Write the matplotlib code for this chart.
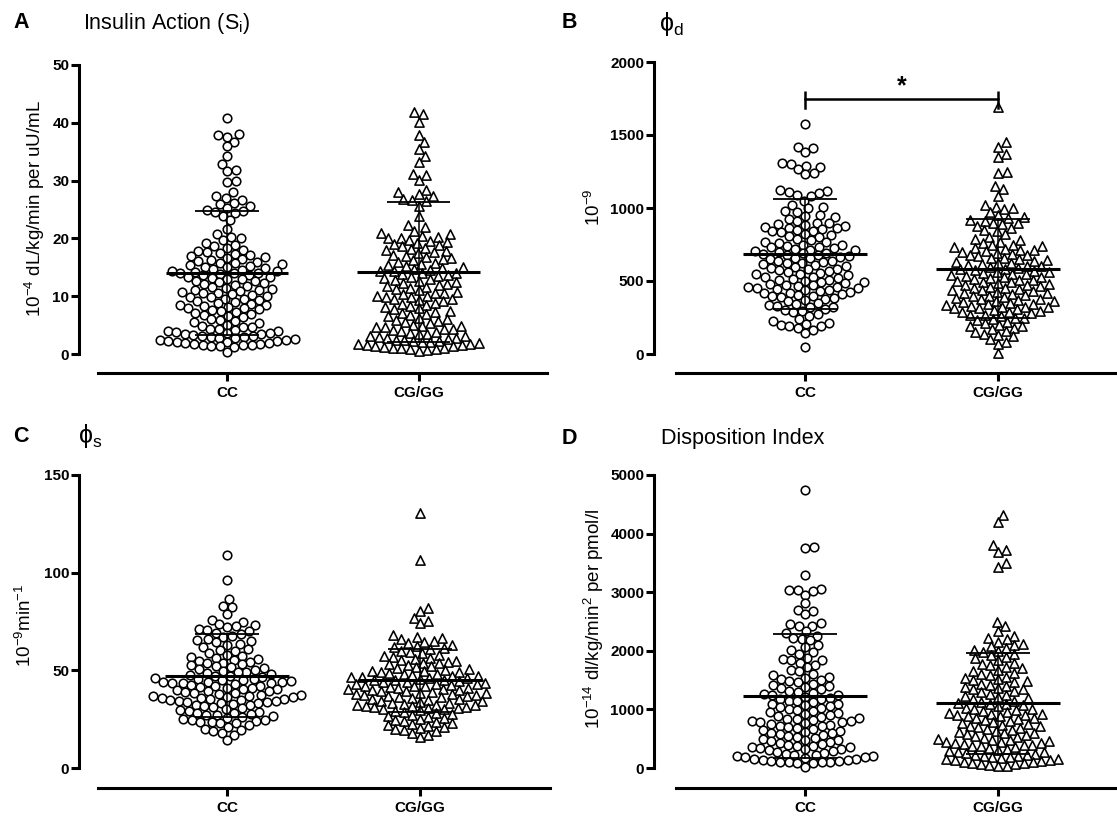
import matplotlib
matplotlib.use('Agg')
import matplotlib.pyplot as plt
import numpy as np

plt.rcParams['font.family'] = ['Liberation Sans', 'DejaVu Sans']
plt.rcParams['mathtext.fontset'] = 'custom'
plt.rcParams['mathtext.rm'] = 'Liberation Sans'
plt.rcParams['mathtext.it'] = 'Liberation Sans:italic'
plt.rcParams['mathtext.bf'] = 'Liberation Sans:bold'

W, H = 1117, 817
groups = ['CC', 'CG/GG']

# ---- data ----
si_cc = [40.8, 38.0, 37.9, 37.6, 36.7, 35.9, 34.3, 32.9, 31.9, 31.7, 30.0, 29.8, 28.0, 27.3,
         27.0, 26.6, 26.2, 25.9, 25.6, 25.2, 24.9, 24.7, 24.6, 24.4, 23.9, 23.1, 21.7, 20.8,
         20.3, 20.0, 19.7, 19.2, 18.9, 18.6, 18.4, 18.0, 17.8, 17.6, 17.4, 17.3, 17.1, 16.9,
         16.8, 16.6, 16.5, 16.3, 16.1, 16.0, 15.8, 15.7, 15.5, 15.4, 15.2, 15.1, 15.0, 14.8,
         14.7, 14.6, 14.4, 14.3, 14.2, 14.1, 14.0, 14.0, 13.9, 13.7, 13.6, 13.4, 13.3, 13.2,
         13.0, 12.9, 12.7, 12.6, 12.4, 12.3, 12.1, 12.0, 11.8, 11.6, 11.5, 11.3, 11.1, 11.0,
         10.9, 10.7, 10.6, 10.5, 10.4, 10.2, 10.1, 9.9, 9.8, 9.6, 9.5, 9.3, 9.1, 9.0, 8.8,
         8.7, 8.5, 8.4, 8.3, 8.2, 8.0, 7.9, 7.7, 7.6, 7.4, 7.3, 7.1, 7.0, 6.8, 6.6, 6.4, 6.1,
         5.9, 5.7, 5.5, 5.4, 5.1, 4.9, 4.7, 4.6, 4.4, 4.3, 4.2, 4.0, 3.9, 3.8, 3.7, 3.6, 3.5,
         3.4, 3.3, 3.2, 3.1, 3.0, 2.9, 2.8, 2.7, 2.6, 2.5, 2.4, 2.3, 2.2, 2.1, 2.0, 1.9, 1.9,
         1.8, 1.7, 1.6, 1.6, 1.5, 1.4, 1.3, 1.2, 0.4]
si_cg = [41.8, 41.5, 40.2, 37.9, 36.6, 35.4, 34.3, 33.3, 31.2, 30.9, 30.1, 28.4, 28.0, 27.7,
         27.3, 26.9, 26.6, 26.4, 25.6, 23.8, 22.3, 21.9, 21.3, 21.0, 20.8, 20.5, 20.3, 20.1,
         20.0, 19.8, 19.6, 19.4, 19.2, 19.0, 18.8, 18.6, 18.4, 18.2, 18.0, 17.8, 17.6, 17.4,
         17.2, 17.0, 16.8, 16.6, 16.4, 16.2, 16.0, 15.8, 15.6, 15.4, 15.2, 15.0, 14.8, 14.7,
         14.5, 14.4, 14.3, 14.1, 14.0, 13.8, 13.6, 13.5, 13.3, 13.1, 13.0, 12.8, 12.6, 12.4,
         12.3, 12.1, 11.9, 11.7, 11.6, 11.4, 11.2, 11.0, 10.8, 10.6, 10.5, 10.3, 10.1, 10.0,
         9.9, 9.8, 9.6, 9.5, 9.4, 9.1, 8.9, 8.7, 8.5, 8.3, 8.1, 7.9, 7.7, 7.5, 7.3, 7.1, 6.9,
         6.7, 6.5, 6.3, 6.1, 5.9, 5.7, 5.5, 5.3, 5.1, 4.9, 4.8, 4.7, 4.6, 4.4, 4.3, 4.1, 4.0,
         3.8, 3.7, 3.5, 3.4, 3.2, 3.1, 2.9, 2.8, 2.7, 2.6, 2.5, 2.4, 2.3, 2.2, 2.1, 2.0, 1.9,
         1.8, 1.7, 1.6, 1.5, 1.4, 1.3, 1.2, 1.1, 1.0, 1.0, 0.9, 0.8, 0.7, 0.6]

phid_cc = [1575, 1420, 1410, 1385, 1305, 1300, 1290, 1280, 1265, 1240, 1230, 1120, 1115, 1110,
           1100, 1090, 1085, 1050, 1020, 1010, 1000, 980, 970, 955, 945, 935, 925, 910, 900,
           895, 890, 885, 880, 870, 865, 860, 855, 850, 845, 840, 835, 825, 815, 805, 800, 790,
           780, 770, 765, 760, 750, 745, 740, 735, 730, 725, 720, 715, 710, 705, 700, 695, 690,
           685, 680, 675, 670, 665, 660, 655, 650, 640, 635, 630, 625, 620, 615, 610, 600, 595,
           590, 585, 580, 575, 570, 560, 555, 550, 545, 540, 530, 525, 520, 515, 510, 505, 500,
           495, 490, 485, 480, 475, 470, 465, 462, 460, 455, 450, 445, 440, 435, 430, 425, 420,
           415, 410, 405, 400, 395, 390, 385, 380, 370, 360, 350, 340, 335, 330, 325, 320, 310,
           300, 295, 285, 275, 260, 240, 225, 215, 205, 200, 195, 190, 180, 165, 145, 45]
phid_cg = [1690, 1450, 1420, 1370, 1350, 1250, 1240, 1150, 1130, 1080, 1020, 1010, 1000, 990,
           970, 950, 940, 930, 920, 910, 900, 895, 890, 880, 865, 850, 840, 820, 800, 790, 780,
           770, 760, 750, 745, 740, 730, 725, 720, 715, 710, 705, 700, 695, 685, 680, 675, 670,
           660, 655, 650, 645, 640, 630, 625, 620, 615, 610, 605, 600, 595, 590, 585, 580, 575,
           570, 565, 560, 555, 550, 545, 540, 535, 530, 525, 520, 515, 510, 505, 500, 495, 490,
           485, 480, 475, 470, 465, 460, 455, 450, 445, 440, 435, 430, 425, 420, 415, 410, 405,
           400, 395, 390, 385, 380, 375, 370, 365, 360, 355, 350, 345, 340, 335, 330, 325, 322,
           320, 318, 315, 310, 300, 295, 290, 285, 280, 270, 265, 260, 250, 245, 240, 230, 220,
           210, 200, 195, 190, 180, 170, 160, 150, 140, 130, 120, 100, 85, 70, 5]

phis_cc = [109, 96.5, 86.5, 83, 82.5, 79, 76, 74.5, 73.5, 73, 72.5, 72, 71, 70.5, 70, 69, 68.5,
           67.5, 67, 66, 65.5, 65, 64.5, 63.5, 63, 62, 61, 60.5, 60, 59, 58, 57.5, 57, 56.5, 56,
           55.5, 55, 54.5, 54, 53.5, 53, 52.5, 52, 51.5, 51, 50.5, 50, 49.5, 49.2, 49, 48.5, 48,
           47.5, 47.2, 47, 46.5, 46, 45.8, 45.5, 45, 44.8, 44.5, 44.2, 44, 43.8, 43.6, 43.5,
           43.5, 43, 42.5, 42.2, 42, 41.5, 41.2, 41, 40.5, 40.2, 40, 39.5, 39.2, 39, 38.5, 38.2,
           38, 37.5, 37.2, 37, 36.8, 36.5, 36.2, 36, 35.8, 35.5, 35.2, 35, 34.8, 34.5, 34.2, 34,
           33.8, 33.5, 33.2, 33, 32.5, 32, 31.5, 31, 30.5, 30, 29.5, 29, 28.5, 28.2, 28, 27.5,
           27.2, 27, 26.5, 26, 25.5, 25, 24.8, 24.5, 24, 23.8, 23.5, 23.2, 23, 22, 21, 20, 19.5,
           19, 18, 17, 14.5]
phis_cg = [130.5, 106.5, 82, 80.5, 77, 75.5, 74, 68, 67, 66.5, 66, 65, 64.5, 64, 63, 62.5, 62,
           61.5, 61, 60, 59.5, 59, 58, 57.5, 57, 56.5, 56, 55.5, 55, 54.5, 54, 53.5, 53, 52.5,
           52, 51.5, 51, 50.5, 50, 49.8, 49.5, 49.2, 49, 48.5, 48.2, 48, 47.5, 47.2, 47, 46.8,
           46.5, 46.2, 46, 45.5, 45.2, 45, 44.8, 44.5, 44.2, 44, 43.5, 43.2, 43, 42.8, 42.5,
           42.2, 42, 41.8, 41.5, 41.2, 41, 40.5, 40.2, 40, 39.8, 39.5, 39.2, 39, 38.5, 38.2, 38,
           37.8, 37.5, 37.2, 37, 36.8, 36.5, 36.2, 36, 35.5, 35.2, 35, 34.5, 34.2, 34, 33.5,
           33.2, 33, 32.5, 32.2, 32, 31.8, 31.5, 31.2, 31, 30.8, 30.5, 30.2, 30, 29.5, 29, 28.5,
           28, 27.5, 27, 26.5, 26, 25.5, 25, 24.5, 24, 23.5, 23, 22.5, 22, 21.5, 21, 20.5, 20,
           19.5, 19, 18, 17, 16]

di_cc = [4745, 3770, 3760, 3300, 3050, 3045, 3040, 3020, 2960, 2810, 2700, 2680, 2620, 2470,
         2450, 2430, 2420, 2330, 2300, 2260, 2220, 2200, 2180, 2100, 2060, 2020, 1980, 1950,
         1880, 1860, 1850, 1840, 1800, 1750, 1720, 1680, 1650, 1600, 1580, 1560, 1540, 1520,
         1500, 1480, 1460, 1440, 1420, 1400, 1380, 1360, 1340, 1320, 1300, 1280, 1260, 1250,
         1240, 1220, 1200, 1185, 1170, 1150, 1135, 1120, 1100, 1085, 1070, 1050, 1035, 1020,
         1000, 985, 970, 950, 935, 920, 900, 885, 870, 850, 840, 830, 820, 810, 800, 790, 780,
         770, 755, 740, 725, 710, 695, 680, 665, 650, 635, 620, 605, 590, 575, 560, 545, 530,
         515, 500, 485, 470, 455, 440, 425, 410, 395, 380, 370, 360, 350, 340, 330, 320, 300,
         285, 270, 255, 240, 230, 220, 210, 200, 190, 180, 170, 160, 150, 140, 130, 120, 115,
         110, 105, 100, 95, 90, 80, 20]
di_cg = [4320, 4200, 3800, 3720, 3680, 3500, 3430, 2490, 2420, 2330, 2260, 2220, 2200, 2150,
         2120, 2100, 2080, 2050, 2020, 2000, 1980, 1950, 1920, 1900, 1870, 1840, 1800, 1780,
         1750, 1720, 1700, 1680, 1650, 1620, 1600, 1580, 1560, 1540, 1520, 1500, 1480, 1460,
         1440, 1420, 1400, 1380, 1360, 1350, 1340, 1310, 1290, 1270, 1250, 1230, 1210, 1190,
         1170, 1150, 1130, 1110, 1100, 1090, 1070, 1050, 1030, 1010, 1000, 990, 970, 950, 940,
         930, 920, 910, 900, 890, 880, 860, 845, 830, 815, 800, 785, 770, 755, 740, 725, 710,
         695, 680, 665, 650, 635, 620, 605, 590, 575, 560, 545, 530, 515, 500, 485, 470, 460,
         450, 440, 430, 420, 410, 400, 390, 380, 370, 355, 340, 325, 310, 295, 280, 265, 250,
         240, 230, 220, 210, 200, 190, 180, 170, 160, 150, 140, 130, 120, 110, 100, 90, 80, 70,
         60, 50, 40, 30]

# mean, mean+SD, mean-SD as drawn
si_stats = [(14.0, 24.7, 3.3), (14.2, 26.3, 2.1)]
phid_stats = [(683, 1060, 305), (585, 925, 250)]
phis_stats = [(47.3, 68.6, 26.0), (45.1, 61.1, 28.8)]
di_stats = [(1229, 2287, 170), (1104, 1968, 240)]


def swarm_x(ax, values, x0, d):
    """Beeswarm offsets computed in pixel space, returned in data x."""
    vals = np.asarray(values, dtype=float)
    pts = ax.transData.transform(np.column_stack([np.full(len(vals), x0), vals]))
    xc, ys = pts[0, 0], pts[:, 1]
    xs = np.zeros(len(vals))
    placed = []
    for i in np.argsort(ys):
        y = ys[i]
        near = [(px, py) for px, py in placed if abs(py - y) < d]
        cands = [0.0]
        for px, py in near:
            dx = np.sqrt(d * d - (py - y) ** 2)
            cands += [px + dx, px - dx]
        cands.sort(key=abs)
        for c in cands:
            if all((c - px) ** 2 + (y - py) ** 2 >= d * d - 1e-6 for px, py in near):
                xs[i] = c
                break
        placed.append((xs[i], y))
    back = ax.transData.inverted().transform(np.column_stack([xc + xs, ys]))
    return back[:, 0]


fig = plt.figure(figsize=(W / 100, H / 100), dpi=100)

panels = [
    dict(letter='A', title=r'Insulin Action (S$_{\mathrm{i}}$)',
         ylabel=r'10$^{-4}$ dL/kg/min per uU/mL', ymax=50, step=10,
         data=(si_cc, si_cg), stats=si_stats,
         box=(79, 547, 65, 354), cats=(227, 418.5), xstart=98, off=19,
         letter_xy=(13, 23), title_xy=(83, 23), title_fs=15.5, ylab_xy=(35, 208)),
    dict(letter='B', title=r'$\mathrm{\phi_d}$', ylabel=r'10$^{-9}$', ymax=2000, step=500,
         data=(phid_cc, phid_cg), stats=phid_stats,
         box=(654, 1116, 62, 354), cats=(805, 998), xstart=676, off=19,
         letter_xy=(562, 22), title_xy=(659, 24), title_fs=18, ylab_xy=(594, 207)),
    dict(letter='C', title=r'$\mathrm{\phi_s}$', ylabel=r'10$^{-9}$min$^{-1}$', ymax=150, step=50,
         data=(phis_cc, phis_cg), stats=phis_stats,
         box=(79, 550, 475, 768), cats=(227, 420), xstart=98, off=20,
         letter_xy=(13, 436), title_xy=(78, 436), title_fs=18, ylab_xy=(25, 625)),
    dict(letter='D', title='Disposition Index',
         ylabel=r'10$^{-14}$ dl/kg/min$^{2}$ per pmol/l', ymax=5000, step=1000,
         data=(di_cc, di_cg), stats=di_stats,
         box=(654, 1116, 475, 768), cats=(805, 998), xstart=676, off=20,
         letter_xy=(562, 439), title_xy=(661, 439), title_fs=15.5, ylab_xy=(594, 619)),
]

for p in panels:
    left, right, top, bottom = p['box']
    ax = fig.add_axes([left / W, 1 - bottom / H, (right - left) / W, (bottom - top) / H])
    c0, c1 = p['cats']
    sp = c1 - c0
    ax.set_xlim((left - c0) / sp, (right - c0) / sp)
    ax.set_ylim(0, p['ymax'])
    ax.set_facecolor('none')

    for s in ['top', 'right']:
        ax.spines[s].set_visible(False)
    ax.spines['left'].set_linewidth(2.2)
    ax.spines['bottom'].set_linewidth(2.2)
    ax.spines['bottom'].set_position(('outward', p['off'] * 0.72))
    ax.spines['bottom'].set_bounds((p['xstart'] - c0) / sp, (right - c0) / sp)

    ax.set_yticks(np.arange(0, p['ymax'] + 1, p['step']))
    ax.set_xticks([0, 1])
    ax.set_xticklabels(groups, fontsize=11, fontweight='bold')
    for lab in ax.get_yticklabels():
        lab.set_fontweight('bold')
        lab.set_fontsize(11)
    ax.tick_params(axis='both', width=2.2, length=5.5, color='black')
    ax.tick_params(axis='y', pad=1.5)
    ax.tick_params(axis='x', pad=4)

    for gi, (vals, marker) in enumerate(zip(p['data'], ['o', '^'])):
        xs = swarm_x(ax, vals, gi, 8.7)
        ax.scatter(xs, vals, s=38 if marker == 'o' else 44, marker=marker,
                   facecolor='white', edgecolor='black', linewidths=1.15,
                   clip_on=False, zorder=2)
        mean, hi, lo = p['stats'][gi]
        ax.plot([gi - 0.32, gi + 0.32], [mean, mean], color='black', lw=2.2, zorder=4,
                solid_capstyle='butt')
        ax.plot([gi, gi], [lo, hi], color='black', lw=1.1, zorder=4)
        for yy in (hi, lo):
            ax.plot([gi - 0.165, gi + 0.165], [yy, yy], color='black', lw=1.3, zorder=4,
                    solid_capstyle='butt')

    lx, ly = p['letter_xy']
    fig.text(lx / W, 1 - ly / H, p['letter'], fontsize=15.5, fontweight='bold', va='center')
    tx, ty = p['title_xy']
    fig.text(tx / W, 1 - ty / H, p['title'], fontsize=p['title_fs'], va='center')
    yx, yy = p['ylab_xy']
    fig.text(yx / W, 1 - yy / H, p['ylabel'], fontsize=13.5, rotation=90,
             ha='center', va='center')

    if p['letter'] == 'B':
        ax.plot([0, 0, 1, 1], [1801, 1747, 1747, 1801], color='black', lw=1.8,
                solid_capstyle='butt', clip_on=False, zorder=5)
        ax.plot([0, 0], [1747, 1685], color='black', lw=1.8, zorder=5)
        ax.plot([1, 1], [1747, 1685], color='black', lw=1.8, zorder=5)
        ax.text(0.5, 1835, '*', ha='center', va='center', fontsize=18, fontweight='bold')

fig.savefig('out.png', dpi=100)
